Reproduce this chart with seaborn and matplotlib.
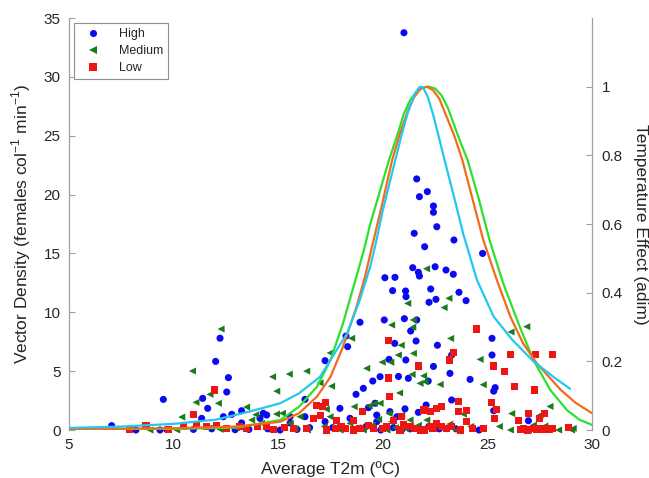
import numpy as np
import pandas as pd
import matplotlib
matplotlib.use("Agg")
import matplotlib.pyplot as plt
import seaborn as sns

# ---------------- data ----------------
high_x = [7.04, 8.2, 9.35, 9.67, 9.51, 10.95, 11.34, 11.39, 11.63, 11.82, 12.01, 12.22, 12.62, 12.54,
          12.38, 12.78, 12.94, 13.25, 13.25, 13.6, 14.13, 14.29, 14.45, 14.5, 15.09, 15.57, 15.57, 15.9,
          16.28, 16.28, 16.5, 17.24, 17.24, 17.95, 18.1, 18.24, 18.32, 18.43, 18.72, 18.91, 19.07, 19.2,
          19.31, 19.52, 19.63, 19.71, 19.71, 19.87, 19.9, 20.07, 20.1, 20.3, 20.34, 20.47, 20.5, 20.57,
          20.58, 20.75, 20.67, 21.01, 21.03, 21.06, 21.09, 21.11, 21.1, 21.22, 21.3, 21.33, 21.43, 21.5,
          21.59, 21.62, 21.62, 21.7, 21.7, 21.75, 21.75, 21.8, 22.0, 22.07, 22.13, 22.17, 22.21, 22.29,
          22.42, 22.42, 22.42, 22.5, 22.54, 22.58, 22.61, 22.7, 23.02, 23.21, 23.29, 23.29, 23.37, 23.4,
          23.5, 23.64, 23.98, 24.17, 24.6, 24.77, 25.22, 25.22, 25.37, 25.3, 25.3, 26.96,
          17.6, 18.6, 20.9, 22.2]
high_y = [0.37, 0.0, 0.0, 0.05, 2.6, 0.05, 0.99, 2.69, 1.84, 0.1, 5.83, 7.8, 4.45, 3.23,
          1.13, 1.33, 0.03, 1.64, 0.6, 0.05, 0.99, 1.42, 1.27, 0.1, 0.0, 1.13, 0.59, 0.05,
          2.6, 1.13, 0.2, 5.89, 0.71, 1.84, 0.1, 7.98, 7.08, 0.99, 3.03, 9.15, 3.54, 0.3,
          1.9, 4.16, 2.27, 0.71, 1.27, 4.53, 0.0, 9.35, 12.94, 6.0, 1.56, 11.84, 0.2, 7.36,
          12.97, 4.55, 1.13, 33.75, 9.46, 1.8, 11.81, 11.33, 5.95, 4.39, 0.1, 8.41, 13.79, 16.71,
          7.56, 21.33, 9.35, 13.4, 1.5, 13.08, 19.82, 0.0, 15.57, 2.12, 20.25, 4.16, 10.85, 11.98,
          19.03, 18.5, 5.4, 13.87, 11.1, 17.27, 7.2, 0.1, 13.59, 4.81, 6.37, 2.55, 13.23, 16.14,
          0.1, 11.7, 10.99, 4.3, 0.0, 15.0, 7.79, 6.37, 3.6, 3.3, 1.64, 0.79,
          0.2, 0.0, 0.0, 0.3]

med_x = [8.87, 10.15, 10.39, 10.9, 11.07, 11.74, 12.14, 12.22, 12.27, 13.0, 13.49, 13.73, 13.93,
         14.2, 14.73, 14.93, 14.92, 15.2, 15.53, 15.57, 15.8, 16.04, 16.36, 16.4, 17.0, 17.3, 17.48,
         17.48, 17.55, 17.95, 18.43, 18.51, 18.63, 19.07, 19.23, 19.35, 19.6, 19.87, 19.97, 20.2,
         20.38, 20.42, 20.42, 20.74, 20.8, 20.88, 20.9, 21.19, 21.3, 21.4, 21.43, 21.46, 21.46, 21.78,
         21.95, 22.02, 22.09, 22.1, 22.74, 22.93, 23.16, 23.24, 23.5, 23.85, 24.2, 24.65, 24.8, 25.57,
         26.1, 26.13, 26.16, 26.88, 26.96, 27.2, 27.52, 27.75, 27.99, 28.4, 29.02, 29.1,
         17.2, 18.2, 18.8, 19.5, 20.6, 21.1, 21.7, 22.3, 22.9, 23.2, 19.8, 20.3]
med_y = [0.0, 0.0, 1.1, 5.01, 2.35, 3.03, 2.27, 0.05, 8.58, 0.2, 1.95, 0.85, 1.3,
         0.57, 4.52, 3.3, 1.36, 1.42, 4.75, 0.57, 0.1, 1.13, 5.0, 0.0, 4.0, 1.77, 1.13,
         6.55, 3.72, 0.0, 0.57, 7.79, 1.98, 0.0, 5.24, 2.05, 2.27, 2.27, 5.76, 0.0,
         5.75, 8.92, 0.71, 6.37, 3.15, 7.2, 1.27, 10.76, 0.85, 4.72, 8.73, 9.35, 6.51, 3.96,
         4.6, 4.1, 13.7, 0.85, 3.87, 10.4, 11.19, 7.78, 0.0, 1.35, 0.3, 6.0, 3.85, 0.3,
         0.0, 8.33, 1.4, 8.78, 0.0, 0.42, 1.27, 0.34, 2.0, 0.0, 0.0, 0.14,
         0.3, 0.1, 0.2, 0.4, 0.2, 0.1, 0.4, 0.2, 0.1, 0.5, 0.9, 1.4]

low_x = [7.9, 8.68, 9.75, 10.47, 10.93, 11.1, 11.58, 11.95, 12.06, 12.54, 13.17, 13.49, 14.0, 14.45,
         14.76, 15.3, 15.73, 16.36, 16.68, 16.85, 17.0, 17.1, 17.28, 17.32, 17.72, 17.8, 18.2, 18.62,
         18.59, 18.91, 19.03, 19.55, 20.19, 20.27, 20.27, 20.34, 20.5, 20.82, 20.9, 21.3, 21.7, 21.78,
         21.97, 22.26, 22.26, 22.58, 22.58, 22.81, 22.81, 23.05, 23.18, 23.37, 23.63, 23.61, 23.7, 23.98,
         24.0, 24.3, 24.49, 24.8, 25.2, 25.28, 25.32, 25.44, 25.81, 26.11, 26.3, 26.48, 26.6, 26.72,
         26.9, 26.96, 27.2, 27.24, 27.28, 27.35, 27.47, 27.5, 27.65, 27.71, 27.8, 27.95, 28.09, 28.1,
         28.87, 18.0, 19.3, 20.0, 21.0, 21.5, 22.0, 22.4, 23.3]
low_y = [0.05, 0.35, 0.05, 0.3, 1.35, 0.5, 0.28, 3.4, 0.42, 0.14, 0.28, 0.1, 0.3, 0.28,
         0.02, 0.2, 0.1, 0.1, 1.0, 2.05, 1.27, 2.0, 2.35, 0.0, 0.14, 0.78, 0.14, 0.8,
         0.0, 0.14, 1.6, 0.14, 0.28, 7.6, 4.42, 2.82, 0.8, 0.0, 1.13, 0.28, 5.44, 0.0,
         1.7, 0.28, 1.61, 0.57, 1.84, 2.0, 0.28, 0.14, 5.95, 6.6, 1.56, 2.41, 0.0, 1.65,
         0.71, 0.14, 8.58, 0.1, 2.3, 5.44, 0.99, 1.78, 5.0, 6.4, 3.7, 0.82, 0.05, 0.14,
         0.0, 1.38, 0.14, 3.4, 6.4, 0.05, 0.99, 0.14, 0.02, 1.4, 0.1, 0.03, 6.4, 0.1,
         0.2, 0.3, 0.4, 0.1, 0.5, 0.1, 0.0, 0.1, 0.3]

cyan_x = [5.0, 7.5, 10.0, 12.0, 13.65, 15.1, 16.0, 17.0, 17.6, 18.3, 18.9, 19.4, 19.65, 20.0, 20.6,
          20.9, 21.2, 21.5, 21.7, 21.8, 21.95, 22.15, 22.4, 22.65, 22.95, 23.4, 23.85, 24.5, 25.3,
          26.2, 27.2, 28.15, 28.95]
cyan_v = [0.006, 0.010, 0.018, 0.030, 0.054, 0.078, 0.107, 0.155, 0.214, 0.282, 0.379, 0.476, 0.54,
          0.64, 0.787, 0.86, 0.925, 0.975, 0.995, 1.0, 0.995, 0.97, 0.92, 0.86, 0.787, 0.68, 0.57,
          0.437, 0.33, 0.262, 0.2, 0.155, 0.12]

orange_x = [5.0, 10.0, 13.0, 15.1, 16.0, 16.85, 17.5, 18.1, 18.75, 19.15, 19.45, 19.9, 20.45, 20.8,
            21.2, 21.5, 21.8, 22.1, 22.4, 22.7, 23.0, 23.4, 23.8, 24.3, 24.8, 25.45, 26.1, 26.7,
            27.35, 28.5, 29.2, 30.0]
orange_v = [0.003, 0.005, 0.010, 0.024, 0.049, 0.097, 0.155, 0.243, 0.36, 0.447, 0.525, 0.64, 0.787,
            0.86, 0.93, 0.97, 0.993, 1.0, 0.99, 0.965, 0.92, 0.86, 0.787, 0.67, 0.554, 0.437, 0.33,
            0.253, 0.195, 0.117, 0.08, 0.049]

green_x = [5.0, 10.0, 13.0, 15.1, 16.0, 16.85, 17.5, 18.1, 18.65, 19.1, 19.4, 20.3, 20.7, 21.0, 21.3,
           21.6, 21.9, 22.2, 22.5, 22.8, 23.1, 23.4, 23.7, 24.05, 24.6, 25.1, 25.75, 26.55, 27.2, 28.0,
           28.8, 29.4, 30.0]
green_v = [0.002, 0.003, 0.007, 0.029, 0.068, 0.126, 0.204, 0.311, 0.428, 0.525, 0.6, 0.787, 0.86,
           0.92, 0.96, 0.985, 0.998, 1.0, 0.995, 0.975, 0.94, 0.89, 0.84, 0.787, 0.67, 0.554, 0.428,
           0.30, 0.204, 0.117, 0.058, 0.03, 0.015]

group_labels = ["High", "Medium", "Low"]
left_ticks = [0, 5, 10, 15, 20, 25, 30, 35]
right_ticks = [0, 0.2, 0.4, 0.6, 0.8, 1]
right_ticklabels = ["0", "0.2", "0.4", "0.6", "0.8", "1"]
x_ticks = [5, 10, 15, 20, 25, 30]

# ---------------- styling ----------------
sns.set_theme(style="white")
plt.rcParams["font.family"] = ["Liberation Sans", "DejaVu Sans"]

fig = plt.figure(figsize=(6.49, 4.78), dpi=100)
ax = fig.add_axes([0.1063, 0.1004, 0.8059, 0.8619])

C_BLUE = "#0a0af0"
C_GREEN = "#1b7a1b"
C_RED = "#ee1515"

pts = pd.concat([
    pd.DataFrame({"T": high_x, "D": high_y, "g": "High"}),
    pd.DataFrame({"T": med_x, "D": med_y, "g": "Medium"}),
    pd.DataFrame({"T": low_x, "D": low_y, "g": "Low"}),
], ignore_index=True)

sns.scatterplot(data=pts, x="T", y="D", hue="g", style="g",
                hue_order=group_labels, style_order=group_labels,
                palette={"High": C_BLUE, "Medium": C_GREEN, "Low": C_RED},
                markers={"High": "o", "Medium": "<", "Low": "s"},
                s=26, linewidth=0, ax=ax, clip_on=False, legend=True, zorder=3)

ax.set_xlim(5, 30)
ax.set_ylim(0, 35)
ax.set_xticks(x_ticks)
ax.set_yticks(left_ticks)
ax.set_xlabel("Average T2m (ºC)", fontsize=12.5, labelpad=6)
ax.set_ylabel("Vector Density (females col$^{\\mathregular{-1}}$ min$^{\\mathregular{-1}}$)",
              fontsize=12.5, labelpad=8)
ax.tick_params(axis="y", direction="in", length=4, width=0.8, color="#a0a0a0",
               labelsize=11, pad=6, left=True)
ax.tick_params(axis="x", length=0, labelsize=11, pad=6)
for sp in ["top", "bottom", "right"]:
    ax.spines[sp].set_visible(False)
ax.spines["left"].set_color("#a0a0a0")
ax.spines["left"].set_linewidth(0.9)

leg = ax.legend(loc="upper left", bbox_to_anchor=(0.0096, 0.988), borderaxespad=0,
                fontsize=9, frameon=True, fancybox=False, framealpha=1,
                handlelength=2.2, handletextpad=1.0, labelspacing=0.4,
                borderpad=0.4, markerscale=1.0)
leg.get_frame().set_edgecolor("#909090")
leg.get_frame().set_linewidth(0.8)
leg.set_title(None)

ax2 = ax.twinx()
curves = pd.concat([
    pd.DataFrame({"T": green_x, "E": green_v, "c": "g"}),
    pd.DataFrame({"T": orange_x, "E": orange_v, "c": "o"}),
    pd.DataFrame({"T": cyan_x, "E": cyan_v, "c": "c"}),
], ignore_index=True)
sns.lineplot(data=curves, x="T", y="E", hue="c", hue_order=["g", "o", "c"],
             palette={"g": "#2ee02e", "o": "#f26b1d", "c": "#22c8ee"},
             estimator=None, sort=False, linewidth=1.6, legend=False, ax=ax2)
ax2.set_ylim(0, 1.2)
ax2.set_xlim(5, 30)
ax2.set_yticks(right_ticks)
ax2.set_yticklabels(right_ticklabels)
ax2.set_ylabel("Temperature Effect (adim)", fontsize=12.5, rotation=270, labelpad=18)
ax2.set_xlabel("")
ax2.tick_params(axis="y", direction="in", length=4, width=0.8, color="#a0a0a0",
                labelsize=11, pad=7, right=True)
for sp in ["top", "bottom", "left"]:
    ax2.spines[sp].set_visible(False)
ax2.spines["right"].set_color("#a0a0a0")
ax2.spines["right"].set_linewidth(0.9)
ax2.grid(False)
ax.grid(False)

fig.savefig("out.png", dpi=100, facecolor="white")
